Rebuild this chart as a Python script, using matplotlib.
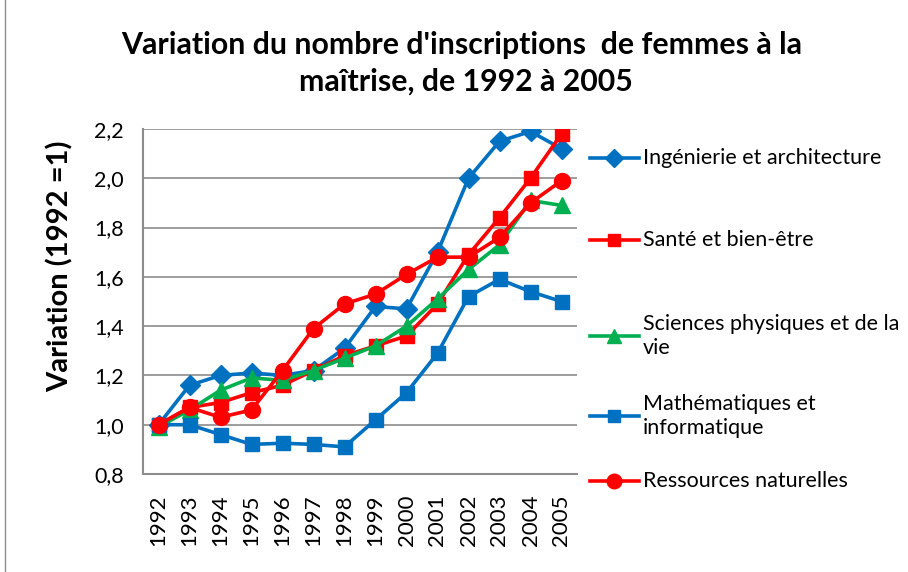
import matplotlib.pyplot as plt
from matplotlib.lines import Line2D
from matplotlib.patches import Rectangle

years = [str(y) for y in range(1992, 2006)]

ingenierie = [1.00, 1.16, 1.20, 1.21, 1.20, 1.22, 1.31, 1.48, 1.47, 1.70, 2.00, 2.15, 2.19, 2.12]
sante = [1.00, 1.07, 1.09, 1.13, 1.16, 1.22, 1.28, 1.32, 1.36, 1.49, 1.69, 1.84, 2.00, 2.18]
sciences = [0.99, 1.06, 1.14, 1.19, 1.18, 1.22, 1.27, 1.32, 1.40, 1.51, 1.63, 1.73, 1.91, 1.89]
maths = [1.00, 1.00, 0.96, 0.92, 0.925, 0.92, 0.91, 1.02, 1.13, 1.29, 1.52, 1.59, 1.54, 1.50]
ressources = [1.00, 1.07, 1.03, 1.06, 1.22, 1.39, 1.49, 1.53, 1.61, 1.68, 1.68, 1.76, 1.90, 1.99]

labels = ["Ingénierie et architecture", "Santé et bien-être",
          "Sciences physiques et de la\nvie", "Mathématiques et\ninformatique",
          "Ressources naturelles"]
yticks = [0.8, 1.0, 1.2, 1.4, 1.6, 1.8, 2.0, 2.2]

plt.rcParams['font.family'] = ['Lato', 'DejaVu Sans']

blue = '#0070C0'
red = '#FF0000'
green = '#00B050'

series = [
    (ingenierie, blue, 'D', 10.5),
    (sante, red, 's', 10),
    (sciences, green, '^', 11.5),
    (maths, blue, 's', 10),
    (ressources, red, 'o', 11.5),
]

fig = plt.figure(figsize=(9.08, 5.72), dpi=100)
ax = fig.add_axes([143 / 908, 1 - 474 / 572, 434 / 908, 345 / 572])

x = list(range(len(years)))
for vals, c, m, ms in series:
    ax.plot(x, vals, color=c, marker=m, markersize=ms, linewidth=2.6,
            markeredgecolor=c, markerfacecolor=c)

ax.set_xlim(-0.5, len(years) - 0.5)
ax.set_ylim(0.8, 2.2)
ax.set_yticks(yticks)
ax.set_yticklabels([f"{v:.1f}".replace('.', ',') for v in yticks], fontsize=15.5)
ax.set_xticks(x)
ax.set_xticklabels(years, rotation=90, fontsize=16)
ax.tick_params(axis='y', length=0, pad=14)
ax.tick_params(axis='x', length=0, pad=15)
ax.grid(axis='y', color='#8c8c8c', linewidth=1.2)
ax.set_axisbelow(True)
for s in ['top', 'right']:
    ax.spines[s].set_visible(False)
for s in ['left', 'bottom']:
    ax.spines[s].set_color('#8c8c8c')
    ax.spines[s].set_linewidth(1.5)

ax.set_ylabel("Variation (1992 =1)", fontsize=21, fontweight='bold')
ax.yaxis.set_label_coords((74 - 143) / 434, (474 - 266) / 345)

fig.text(462 / 908, 1 - 45 / 572, "Variation du nombre d'inscriptions  de femmes à la",
         ha='center', va='center', fontsize=21.8, fontweight='bold')
fig.text(466 / 908, 1 - 82 / 572, "maîtrise, de 1992 à 2005",
         ha='center', va='center', fontsize=21.8, fontweight='bold')

# legend drawn by hand to match the spacing
leg_y = [158, 240, 336, 416, 481]
for (vals, c, m, ms), lab, ly in zip(series, labels, leg_y):
    yf = 1 - ly / 572
    fig.add_artist(Line2D([590 / 908, 639 / 908], [yf, yf], color=c, linewidth=2.6,
                          transform=fig.transFigure))
    fig.add_artist(Line2D([614 / 908], [yf], color=c, marker=m, markersize=ms - 1,
                          markeredgecolor=c, transform=fig.transFigure))
    fig.text(643 / 908, yf, lab, ha='left', va='center', fontsize=15.5, linespacing=1.25)

fig.add_artist(Rectangle((0.005, -0.01), 1.0, 1.02, transform=fig.transFigure,
                         fill=False, edgecolor='#8c8c8c', linewidth=1))

fig.savefig('out.png', dpi=100)
